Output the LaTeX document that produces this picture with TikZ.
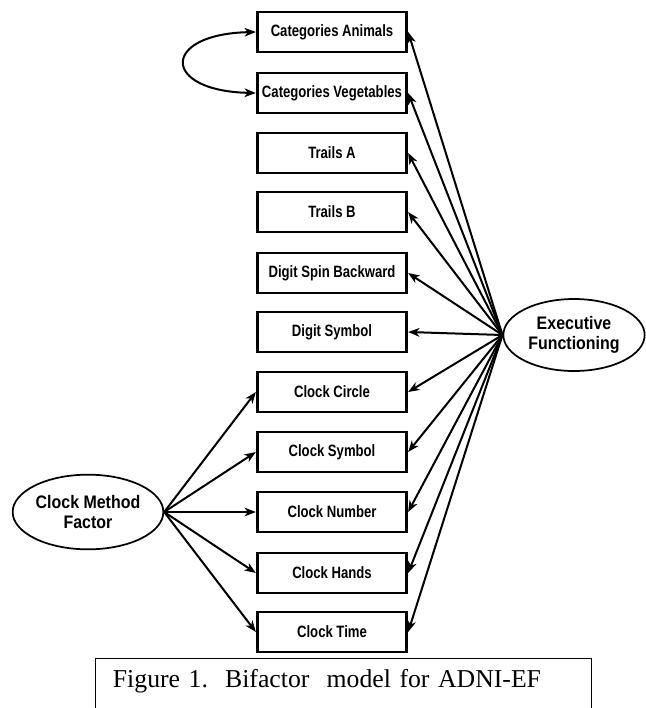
\documentclass[tikz,border=0pt]{standalone}
\usepackage{fontspec}
\setmainfont{Liberation Serif}
\setsansfont{Liberation Sans}
\newfontfamily\boxfont[FakeStretch=0.8]{Liberation Sans Bold}
\newfontfamily\latentfont[FakeStretch=0.88]{Liberation Sans Bold}
\usetikzlibrary{arrows.meta,shapes.geometric}

\begin{document}
\begin{tikzpicture}[x=0.75pt,y=0.75pt,yscale=-1,
  obsbox/.style={draw,line width=2.2pt,minimum width=112pt,minimum height=30pt,inner sep=0pt,font=\boxfont\fontsize{12.3}{14}\selectfont},
  latent/.style={draw,ellipse,line width=1.3pt,minimum width=106pt,minimum height=54pt,inner sep=0pt,align=center,font=\latentfont\fontsize{13.6}{15.5}\selectfont},
  path/.style={line width=1.5pt,-{Stealth[length=8.5pt,width=6.5pt,inset=2.5pt]}}]
%set diagram size 646 x 708
\useasboundingbox (0,0) rectangle (646,708);

%Shape: Rectangle
\node[obsbox] (catanim) at (332,32) {Categories Animals};
\node[obsbox] (catveg) at (332,93) {Categories Vegetables};
\node[obsbox] (trailsa) at (332,153) {Trails A};
\node[obsbox] (trailsb) at (332,212) {Trails B};
\node[obsbox] (digspin) at (332,273) {Digit Spin Backward};
\node[obsbox] (digsym) at (332,332) {Digit Symbol};
\node[obsbox] (clkcircle) at (332,392) {Clock Circle};
\node[obsbox] (clksym) at (332,452) {Clock Symbol};
\node[obsbox] (clknum) at (332,512) {Clock Number};
\node[obsbox] (clkhands) at (332,573) {Clock Hands};
\node[obsbox] (clktime) at (332,632) {Clock Time};

%Shape: Ellipse
\node[latent] (ef) at (574,335) {Executive\\Functioning};
\node[latent,minimum width=113pt,minimum height=56pt] (cmf) at (88,512) {Clock Method\\Factor};

%Curve Lines
\draw[line width=1.5pt,{Stealth[length=8.5pt,width=6.5pt,inset=2.5pt]}-{Stealth[length=8.5pt,width=6.5pt,inset=2.5pt]}] (catanim.west) .. controls +(-95,2) and +(-95,-2) .. (catveg.west);

%Straight Lines
\draw[path] (ef.west) -- (catanim.east);
\draw[path] (ef.west) -- (catveg.east);
\draw[path] (ef.west) -- (trailsa.east);
\draw[path] (ef.west) -- (trailsb.east);
\draw[path] (ef.west) -- (digspin.east);
\draw[path] (ef.west) -- (digsym.east);
\draw[path] (ef.west) -- (clkcircle.east);
\draw[path] (ef.west) -- (clksym.east);
\draw[path] (ef.west) -- (clknum.east);
\draw[path] (ef.west) -- (clkhands.east);
\draw[path] (ef.west) -- (clktime.east);

%Straight Lines
\draw[path] (cmf.east) -- (clkcircle.west);
\draw[path] (cmf.east) -- (clksym.west);
\draw[path] (cmf.east) -- (clknum.west);
\draw[path] (cmf.east) -- (clkhands.west);
\draw[path] (cmf.east) -- (clktime.west);

% Text Node
\node[draw,line width=0.9pt,anchor=north west,minimum width=372pt,minimum height=42pt,text width=346pt,text depth=13pt,align=left,inner xsep=13pt,font=\fontsize{19.3}{23}\selectfont] (caption) at (95,658) {Figure 1.\ \ Bifactor\ \ model for ADNI-EF};

\end{tikzpicture}
\end{document}
